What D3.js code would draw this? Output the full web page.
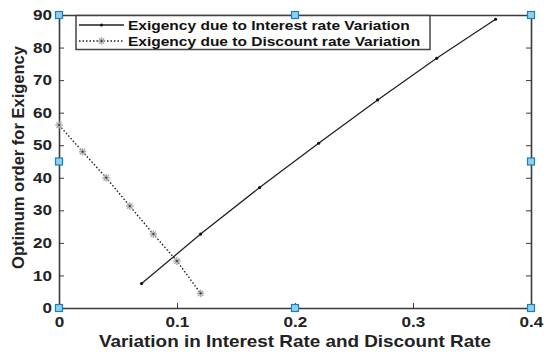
<!DOCTYPE html>
<html>
<head>
<meta charset="utf-8">
<script src="https://cdn.jsdelivr.net/npm/d3@7"></script>
<style>
body { margin: 0; background: #fff; }
svg { font-family: "Liberation Sans", Arial, sans-serif; font-weight: bold; }
</style>
</head>
<body>
<svg id="chart" width="550" height="357"></svg>
<script>
"use strict"

const WIDTH = 550;
const HEIGHT = 357;
const MARGIN = { left: 59, right: 19, top: 15, bottom: 49 };
const STRETCH = 1.18; // the source image is stretched horizontally

// Data
const INTEREST_X = [0.07, 0.12, 0.17, 0.22, 0.27, 0.32, 0.37];
const INTEREST_Y = [7.5, 22.7, 37.0, 50.6, 63.9, 76.7, 88.7];
const DISCOUNT_X = [0, 0.02, 0.04, 0.06, 0.08, 0.10, 0.12];
const DISCOUNT_Y = [56.2, 48.0, 40.0, 31.3, 22.7, 14.4, 4.5];
const X_TICKS = [0, 0.1, 0.2, 0.3, 0.4];
const Y_TICKS = [0, 10, 20, 30, 40, 50, 60, 70, 80, 90];
// MATLAB edit handles (blue squares)
const HANDLE_X = [0, 0, 0, 0.2, 0.2, 0.4, 0.4, 0.4];
const HANDLE_Y = [0, 45, 90, 0, 90, 0, 45, 90];
const LEGEND = ["Exigency due to Interest rate Variation", "Exigency due to Discount rate Variation"];

const svg = d3.select("#chart");
const x = d3.scaleLinear([0, 0.4], [MARGIN.left, WIDTH - MARGIN.right]);
const y = d3.scaleLinear([0, 90], [HEIGHT - MARGIN.bottom, MARGIN.top]);
const AXIS_COLOR = "#3a3a3a";

// Axes (ticks inside, box around)
const axisBottomG = svg.append("g").attr("transform", `translate(0,${y(0)})`)
    .call(d3.axisBottom(x).tickValues(X_TICKS).tickSizeInner(-5).tickSizeOuter(0).tickPadding(9)
        .tickFormat(d => d === 0 ? "0" : d3.format(".1f")(d)));
const axisTopG = svg.append("g").attr("transform", `translate(0,${y(90)})`)
    .call(d3.axisTop(x).tickValues(X_TICKS).tickSizeInner(-5).tickSizeOuter(0).tickFormat(""));
const axisLeftG = svg.append("g").attr("transform", `translate(${x(0)},0)`)
    .call(d3.axisLeft(y).tickValues(Y_TICKS).tickSizeInner(-5).tickSizeOuter(0).tickPadding(6));
const axisRightG = svg.append("g").attr("transform", `translate(${x(0.4)},0)`)
    .call(d3.axisRight(y).tickValues(Y_TICKS).tickSizeInner(-5).tickSizeOuter(0).tickFormat(""));

[axisBottomG, axisTopG, axisLeftG, axisRightG].forEach(g => {
    g.select(".domain").attr("stroke", AXIS_COLOR).attr("stroke-width", 1.6);
    g.selectAll(".tick line").attr("stroke", AXIS_COLOR).attr("stroke-width", 1);
    g.selectAll("text").attr("fill", "#222").attr("font-size", 14.5).attr("font-weight", "bold")
        .attr("font-family", "Liberation Sans, Arial, sans-serif")
        .attr("transform", `scale(${STRETCH},1)`);
});

// Axis labels
svg.append("text")
    .attr("transform", `translate(${(x(0) + x(0.4)) / 2},347) scale(${STRETCH},1)`)
    .attr("text-anchor", "middle").attr("font-size", 16).attr("fill", "#222")
    .text("Variation in Interest Rate and Discount Rate");
svg.append("text")
    .attr("transform", `translate(24,${(y(0) + y(90)) / 2 - 4}) rotate(-90)`)
    .attr("text-anchor", "middle").attr("font-size", 16.5).attr("fill", "#222")
    .text("Optimum order for Exigency");

const line = d3.line().x(d => x(d[0])).y(d => y(d[1]));
const interest = INTEREST_X.map((v, i) => [v, INTEREST_Y[i]]);
const discount = DISCOUNT_X.map((v, i) => [v, DISCOUNT_Y[i]]);

// Discount series: dotted with grey asterisks
svg.append("path").attr("d", line(discount))
    .attr("fill", "none").attr("stroke", "#222").attr("stroke-width", 1.4)
    .attr("stroke-dasharray", "1.5,2");

function asterisk(g, cx, cy) {
    const s = 3.8;
    const a = g.append("g").attr("transform", `translate(${cx},${cy})`)
        .attr("stroke", "#aaa").attr("stroke-width", 1.4);
    a.append("line").attr("x1", -s).attr("x2", s).attr("y1", 0).attr("y2", 0);
    a.append("line").attr("x1", 0).attr("x2", 0).attr("y1", -s).attr("y2", s);
    a.append("line").attr("x1", -s * 0.7).attr("x2", s * 0.7).attr("y1", -s * 0.7).attr("y2", s * 0.7);
    a.append("line").attr("x1", -s * 0.7).attr("x2", s * 0.7).attr("y1", s * 0.7).attr("y2", -s * 0.7);
    a.append("circle").attr("r", 1).attr("fill", "#333").attr("stroke", "none");
}
const marks = svg.append("g");
discount.forEach(d => asterisk(marks, x(d[0]), y(d[1])));

// Interest series: solid with small dots
svg.append("path").attr("d", line(interest))
    .attr("fill", "none").attr("stroke", "#222").attr("stroke-width", 1.3);
svg.append("g").selectAll("circle").data(interest).join("circle")
    .attr("cx", d => x(d[0])).attr("cy", d => y(d[1])).attr("r", 1.6).attr("fill", "#111");

// Legend
const lg = svg.append("g");
lg.append("rect").attr("x", 76).attr("y", 15.5).attr("width", 354).attr("height", 34)
    .attr("fill", "#fff").attr("stroke", "#444").attr("stroke-width", 1.5);
lg.append("line").attr("x1", 79).attr("x2", 124).attr("y1", 25).attr("y2", 25)
    .attr("stroke", "#222").attr("stroke-width", 1.3);
lg.append("circle").attr("cx", 101.5).attr("cy", 25).attr("r", 1.6).attr("fill", "#111");
lg.append("line").attr("x1", 79).attr("x2", 124).attr("y1", 41).attr("y2", 41)
    .attr("stroke", "#222").attr("stroke-width", 1.4).attr("stroke-dasharray", "1.5,2");
asterisk(lg, 101.5, 41);
LEGEND.forEach((t, i) => {
    lg.append("text").attr("transform", `translate(128,${30 + i * 16}) scale(1.15,1)`)
        .attr("font-size", 13.5).attr("fill", "#111").text(t);
});

// Edit handles
svg.append("g").selectAll("rect").data(HANDLE_X).join("rect")
    .attr("x", (d) => x(d) - 3.5).attr("y", (d, i) => y(HANDLE_Y[i]) - 3.5)
    .attr("width", 7).attr("height", 7)
    .attr("fill", "#8fd0f0").attr("stroke", "#1a7fc0").attr("stroke-width", 1.2);
</script>
</body>
</html>
